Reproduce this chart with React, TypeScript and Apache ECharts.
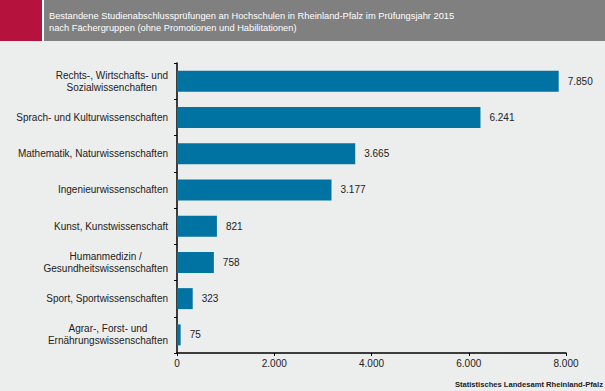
import React, { useEffect, useRef } from "react";
import * as echarts from "echarts";

const categories = [
  "Rechts-, Wirtschafts- und\nSozialwissenchaften",
  "Sprach- und Kulturwissenschaften",
  "Mathematik, Naturwissenschaften",
  "Ingenieurwissenschaften",
  "Kunst, Kunstwissenschaft",
  "Humanmedizin /\nGesundheitswissenschaften",
  "Sport, Sportwissenschaften",
  "Agrar-, Forst- und\nErnährungswissenschaften",
];
const values = [7850, 6241, 3665, 3177, 821, 758, 323, 75];
const titleLines = [
  "Bestandene Studienabschlussprüfungen an Hochschulen in Rheinland-Pfalz im Prüfungsjahr 2015",
  "nach Fächergruppen (ohne Promotionen und Habilitationen)",
];
const sourceText = "Statistisches Landesamt Rheinland-Pfalz";

const fmt = (v: number) => String(v).replace(/\B(?=(\d{3})+(?!\d))/g, ".");
const FONT = "Liberation Sans, Arial, sans-serif";

export default function App() {
  const ref = useRef<HTMLDivElement>(null);
  useEffect(() => {
    if (!ref.current) return;
    document.body.style.margin = "0";
    const chart = echarts.init(ref.current, undefined, { renderer: "svg" });
    chart.setOption({
      animation: false,
      backgroundColor: "#ECEDED",
      textStyle: { fontFamily: FONT },
      grid: { left: 177, top: 63, right: 39, bottom: 38, containLabel: false },
      graphic: [
        { type: "rect", shape: { x: 0, y: 0, width: 42, height: 41 }, style: { fill: "#B5123E" } },
        { type: "rect", shape: { x: 42, y: 0, width: 2, height: 41 }, style: { fill: "#FFFFFF" } },
        { type: "rect", shape: { x: 44, y: 0, width: 561, height: 41 }, style: { fill: "#808080" } },
        {
          type: "text",
          x: 49,
          y: 10,
          style: {
            text: titleLines.join("\n"),
            fill: "#FFFFFF",
            font: `9.3px ${FONT}`,
            lineHeight: 12,
          },
        },
        {
          type: "text",
          right: 2,
          bottom: 3,
          style: {
            text: sourceText,
            fill: "#222",
            font: `bold 7.6px ${FONT}`,
          },
        },
      ],
      xAxis: {
        type: "value",
        min: 0,
        max: 8000,
        interval: 2000,
        splitLine: { show: false },
        axisLine: { show: true, lineStyle: { color: "#000", width: 1.5 } },
        axisTick: { show: true, length: 3, lineStyle: { color: "#000" } },
        axisLabel: {
          color: "#222",
          fontSize: 10,
          margin: 5,
          formatter: (v: number) => fmt(v),
        },
      },
      yAxis: {
        type: "category",
        inverse: true,
        data: categories,
        axisLine: { show: true, lineStyle: { color: "#000", width: 1.5 } },
        axisTick: { show: true, length: 3, lineStyle: { color: "#000" } },
        axisLabel: {
          color: "#222",
          fontSize: 10,
          margin: 9,
          lineHeight: 12,
          formatter: (v: string) =>
            v
              .split("\n")
              .map((l) => `{c|${l}}`)
              .join("\n"),
          rich: {
            c: { align: "center", fontSize: 10, color: "#222", lineHeight: 12, fontFamily: FONT },
          },
        },
      },
      series: [
        {
          type: "bar",
          data: values,
          barWidth: 21,
          itemStyle: { color: "#0073A3" },
          label: {
            show: true,
            position: "right",
            distance: 9,
            color: "#222",
            fontSize: 10,
            formatter: (p: any) => fmt(p.value),
          },
        },
      ],
    });
    return () => chart.dispose();
  }, []);
  return <div ref={ref} style={{ position: "absolute", left: 0, top: 0, width: 605, height: 391 }} />;
}
